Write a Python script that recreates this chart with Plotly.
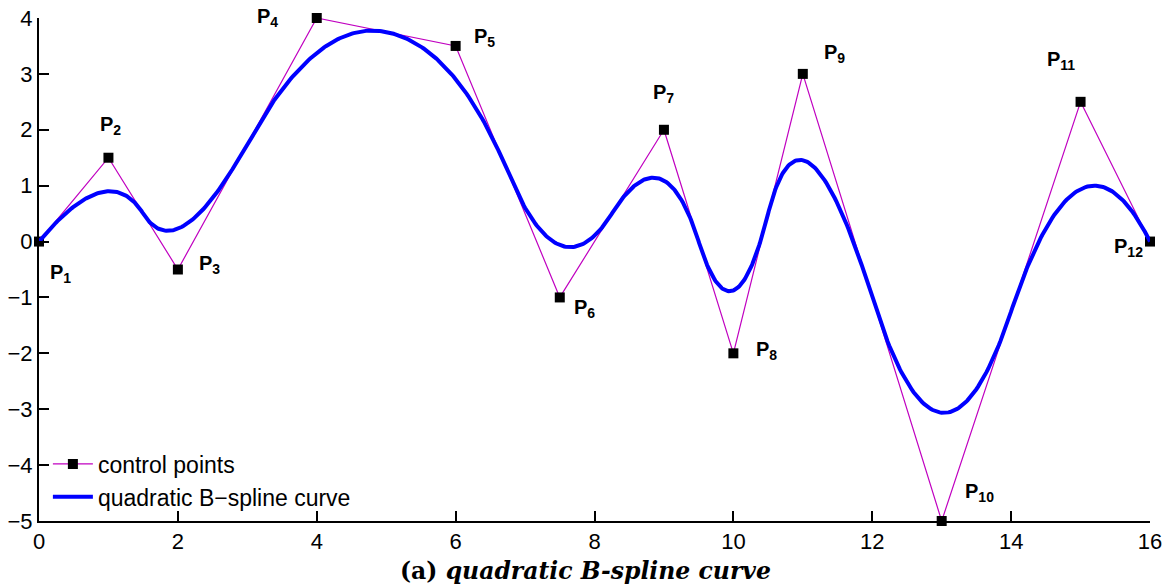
import numpy as np
import plotly.graph_objects as go

# control points
ctrl_x = [0, 1, 2, 4, 6, 7.5, 9, 10, 11, 13, 15, 16]
ctrl_y = [0, 1.5, -0.5, 4, 3.5, -1, 2, -2, 3, -5, 2.5, 0]
labels = ["P<sub>%d</sub>" % (i + 1) for i in range(12)]
# label pixel offsets (x right, y up)
lab_dx = [21, 2, 32, -49, 29, 25, 0, 33, 32, 38, -20, -22]
lab_dy = [-32, 32, 5, 1, 8, -11, 36, 3, 20, 29, 41, -6]

x_ticks = [0, 2, 4, 6, 8, 10, 12, 14, 16]
y_ticks = [-5, -4, -3, -2, -1, 0, 1, 2, 3, 4]

# quadratic clamped uniform B-spline evaluation
deg = 2
n = len(ctrl_x)
inner = list(range(1, n - deg))
knots = np.array([0] * (deg + 1) + inner + [n - deg] * (deg + 1), dtype=float)
P = np.column_stack([ctrl_x, ctrl_y]).astype(float)


def basis(i, k, t):
    if k == 0:
        if knots[i] <= t < knots[i + 1]:
            return 1.0
        if t == knots[-1] and knots[i] < knots[i + 1] == knots[-1]:
            return 1.0
        return 0.0
    a = 0.0
    d1 = knots[i + k] - knots[i]
    if d1 > 0:
        a += (t - knots[i]) / d1 * basis(i, k - 1, t)
    d2 = knots[i + k + 1] - knots[i + 1]
    if d2 > 0:
        a += (knots[i + k + 1] - t) / d2 * basis(i + 1, k - 1, t)
    return a


ts = np.linspace(knots[0], knots[-1], 800)
curve = np.array([sum(basis(i, deg, t) * P[i] for i in range(n)) for t in ts])

fig = go.Figure()
fig.add_trace(go.Scatter(
    x=ctrl_x, y=ctrl_y, mode="lines+markers", name="control points",
    line=dict(color="#c000c0", width=1.2),
    marker=dict(symbol="square", size=10, color="black"),
    cliponaxis=False,
))
fig.add_trace(go.Scatter(
    x=curve[:, 0], y=curve[:, 1], mode="lines", name="quadratic B\u2212spline curve",
    line=dict(color="#0000ff", width=4),
    cliponaxis=False,
))

for x, y, t, dx, dy in zip(ctrl_x, ctrl_y, labels, lab_dx, lab_dy):
    fig.add_annotation(x=x, y=y, text="<b>" + t + "</b>", showarrow=False,
                       xshift=dx, yshift=dy,
                       font=dict(family="Liberation Sans", size=20, color="black"))

fig.add_annotation(xref="paper", yref="paper", x=0.492, y=-0.1,
                   xanchor="center", yanchor="middle", showarrow=False,
                   text="<b>(a) <i>quadratic B-spline curve</i></b>",
                   font=dict(family="DejaVu Serif", size=23.5, color="black"))

axis_common = dict(showgrid=False, zeroline=False, showline=True, linecolor="black",
                   linewidth=2, ticks="inside", ticklen=10, tickwidth=2, tickcolor="black",
                   tickfont=dict(family="Liberation Sans", size=22, color="black"),
                   mirror=False, automargin=False)
fig.update_xaxes(range=[0, 16], tickvals=x_ticks, ticktext=[str(v) for v in x_ticks], **axis_common)
fig.update_yaxes(range=[-5, 4], tickvals=y_ticks,
                 ticktext=[str(v).replace("-", "\u2212") for v in y_ticks], **axis_common)

fig.update_layout(
    width=1173, height=588,
    margin=dict(l=39, r=23, t=18, b=67),
    plot_bgcolor="white", paper_bgcolor="white",
    showlegend=True,
    legend=dict(x=0.008, y=0.005, xanchor="left", yanchor="bottom",
                bgcolor="rgba(0,0,0,0)", font=dict(family="Liberation Sans", size=23, color="black"),
                tracegroupgap=0, itemwidth=40),
)

fig.write_html("out.html")
